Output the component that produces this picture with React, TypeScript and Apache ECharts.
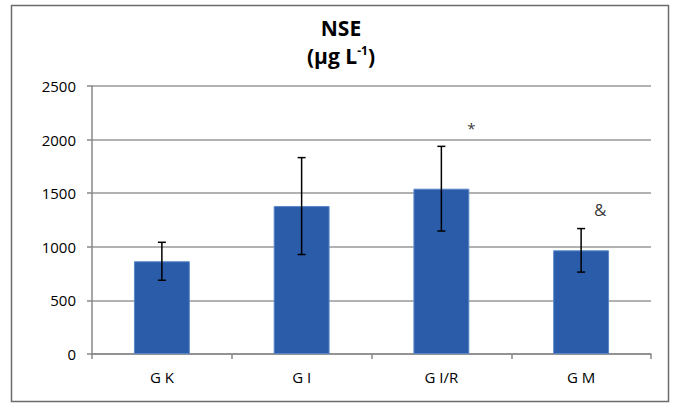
import React, { useEffect, useRef } from "react";
import * as echarts from "echarts";

const categories = ["G K", "G I", "G I/R", "G M"];
const means = [865, 1380, 1542, 967];
const errors = [177, 452, 395, 203];
const annotationTexts = ["", "", "*", "&"];
const annotationValues = [null, null, 2110, 1345];
const annotationOffsets = [0, 0, 30, 19];
const annotationSizes = [0, 0, 15, 17];
const yTicks = { min: 0, max: 2500, interval: 500 };

const FONT = "'Open Sans', Lato, sans-serif";

export default function App() {
  const ref = useRef<HTMLDivElement>(null);
  useEffect(() => {
    document.body.style.margin = "0";
    const chart = echarts.init(ref.current!, null, { renderer: "svg" });
    const errData = means.map((m, i) => [i, m - errors[i], m + errors[i]]);
    const annData = annotationValues
      .map((v, i) => ({ i, v }))
      .filter((d) => d.v !== null)
      .map((d) => ({
        value: [d.i, d.v],
        label: {
          offset: [annotationOffsets[d.i], 0],
          formatter: annotationTexts[d.i],
          fontSize: annotationSizes[d.i],
        },
      }));
    chart.setOption({
      animation: false,
      backgroundColor: "#ffffff",
      textStyle: { fontFamily: FONT },
      grid: { left: 92, right: 24, top: 86, bottom: 52 },
      graphic: [
        {
          type: "rect",
          shape: { x: 11.5, y: 5.5, width: 657, height: 396 },
          style: { fill: "none", stroke: "#6b6b6b", lineWidth: 1.5 },
          z: 10,
        },
        {
          type: "text",
          x: 341,
          y: 28,
          style: {
            text: "NSE",
            fontFamily: FONT,
            fontWeight: "bold",
            fontSize: 21,
            fill: "#000",
            align: "center",
            verticalAlign: "middle",
          },
        },
        {
          type: "text",
          x: 341,
          y: 56,
          style: {
            text: "{a|(µg L}{s|-1}{a|)}",
            fontFamily: FONT,
            align: "center",
            verticalAlign: "middle",
            rich: {
              a: { fontFamily: FONT, fontWeight: "bold", fontSize: 21, fill: "#000" },
              s: {
                fontFamily: FONT,
                fontWeight: "bold",
                fontSize: 12,
                fill: "#000",
                padding: [0, 0, 12, 0],
              },
            },
          },
        },
      ],
      xAxis: {
        type: "category",
        data: categories,
        axisLine: { lineStyle: { color: "#888", width: 1.5 } },
        axisTick: { show: true, length: 5, lineStyle: { color: "#888", width: 1.5 } },
        axisLabel: { color: "#000", fontSize: 15, margin: 15, fontFamily: FONT },
      },
      yAxis: {
        type: "value",
        min: yTicks.min,
        max: yTicks.max,
        interval: yTicks.interval,
        axisLine: { show: true, lineStyle: { color: "#888", width: 1.5 } },
        axisTick: { show: true, length: 5, lineStyle: { color: "#888", width: 1.5 } },
        axisLabel: {
          color: "#000",
          fontSize: 15,
          margin: 16,
          fontFamily: FONT,
          formatter: (v: number) => String(v),
        },
        splitLine: { lineStyle: { color: "#999", width: 1.5 } },
      },
      series: [
        {
          type: "bar",
          data: means,
          barWidth: "40%",
          itemStyle: { color: "#2A5CA9", borderColor: "#5A86C8", borderWidth: 1 },
        },
        {
          type: "custom",
          data: errData,
          z: 5,
          renderItem: (params: any, api: any) => {
            const x = api.coord([api.value(0), 0])[0];
            const lo = api.coord([api.value(0), api.value(1)])[1];
            const hi = api.coord([api.value(0), api.value(2)])[1];
            const w = 4;
            const st = { stroke: "#000", lineWidth: 1.5 };
            return {
              type: "group",
              children: [
                { type: "line", shape: { x1: x, y1: lo, x2: x, y2: hi }, style: st },
                { type: "line", shape: { x1: x - w, y1: lo, x2: x + w, y2: lo }, style: st },
                { type: "line", shape: { x1: x - w, y1: hi, x2: x + w, y2: hi }, style: st },
              ],
            };
          },
        },
        {
          type: "scatter",
          data: annData,
          symbolSize: 0,
          label: {
            show: true,
            position: "inside",
            color: "#000",
            fontSize: 16,
            fontFamily: FONT,
          },
        },
      ],
    });
    return () => chart.dispose();
  }, []);
  return <div ref={ref} style={{ width: 675, height: 406 }} />;
}
